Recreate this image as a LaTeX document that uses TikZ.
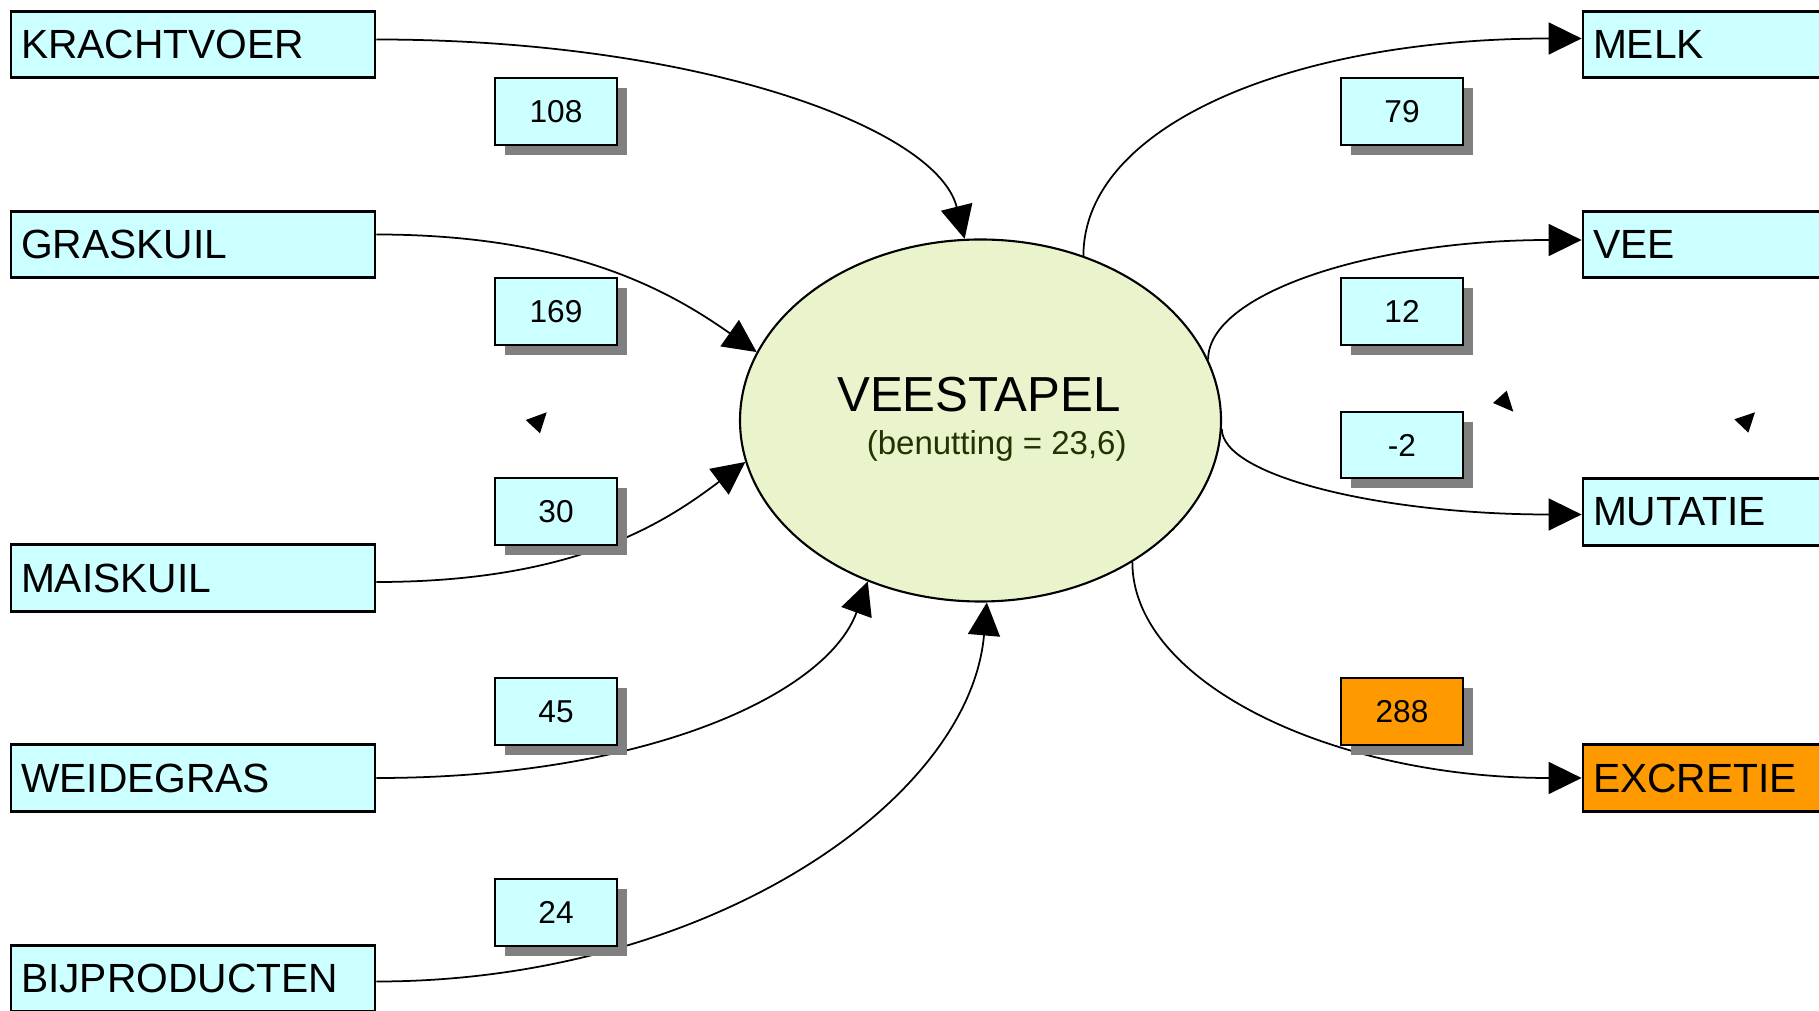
\documentclass[tikz,border=0pt]{standalone}
\usepackage{fontspec}
\setmainfont{Liberation Sans}
\usepackage{xcolor}
\usepackage{tikz}
\usetikzlibrary{arrows.meta,shapes.geometric,shadows}

\definecolor{lichtblauw}{HTML}{CCFFFF}
\definecolor{oranje}{HTML}{FF9900}
\definecolor{lichtgroen}{HTML}{E9F4CC}
\definecolor{donkergroen}{HTML}{223300}
\definecolor{schaduw}{HTML}{808080}

\tikzset{
	post/.style={rectangle, draw=black, line width=0.8pt, fill=lichtblauw, minimum height=0.667cm, text width=3.44cm, inner xsep=0.1cm, inner ysep=0pt, align=left, font=\fontsize{11.6}{13}\selectfont},
	getal/.style={rectangle, draw=black, line width=0.65pt, fill=lichtblauw, minimum width=1.22cm, minimum height=0.667cm, inner sep=0pt, font=\fontsize{9}{11}\selectfont, drop shadow={shadow xshift=0.1cm, shadow yshift=-0.1cm, fill=schaduw, opacity=1}},
	stroom/.style={line width=0.5pt, -{Triangle[length=3.3mm,width=3.2mm]}}
}

\begin{document}
\begin{tikzpicture}
				\useasboundingbox (0,0) rectangle (18.19,-10.11);
				\clip (0,0) rectangle (18.19,-10.11);
				\fill[white] (0,0) rectangle (18.19,-10.11);
				
				\node[post] (krachtvoer) at (1.93,-0.445) {KRACHTVOER};
				\node[post] (graskuil) at (1.93,-2.445) {GRASKUIL};
				\node[post] (maiskuil) at (1.93,-5.78) {MAISKUIL};
				\node[post] (weidegras) at (1.93,-7.78) {WEIDEGRAS};
				\node[post] (bijproducten) at (1.93,-9.785) {BIJPRODUCTEN};
				
				\node[post] (melk) at (17.65,-0.445) {MELK};
				\node[post] (vee) at (17.65,-2.445) {VEE};
				\node[post] (mutatie) at (17.65,-5.12) {MUTATIE};
				\node[post,fill=oranje] (excretie) at (17.65,-7.78) {EXCRETIE};
				
				\node[ellipse,draw=black,line width=0.6pt,fill=lichtgroen,minimum width=4.81cm,minimum height=3.62cm,inner sep=0pt] (veestapel) at (9.805,-4.205) {};
				\node[anchor=base,font=\fontsize{14}{16}\selectfont] (naam) at (9.79,-4.117) {VEESTAPEL};
				\node[anchor=base,font=\fontsize{9.4}{11}\selectfont,text=donkergroen] (benutting) at (9.967,-4.55) {(benutting = 23,6)};
				
				% aanvoer
				\path [stroom]([yshift=0.5mm]krachtvoer.east) edge[out=0,in=104,out distance=3.2cm,in distance=1.15cm] (veestapel.95);
				\path [stroom]([yshift=1mm]graskuil.east) edge[out=0,in=145,out distance=2cm,in distance=1cm] (veestapel.163.5);
				\path [stroom]([yshift=-0.4mm]maiskuil.east) edge[out=0,in=217,out distance=2cm,in distance=1cm] (veestapel.190);
				\path [stroom](weidegras.east) edge[out=0,in=250,out distance=2.7cm,in distance=1.2cm] (veestapel.235);
				\path [stroom]([yshift=-0.3mm]bijproducten.east) edge[out=0,in=265,out distance=3.3cm,in distance=2cm] (veestapel.272);
				
				% afvoer
				\path [stroom](veestapel.58) edge[out=90,in=180,out distance=1.3cm,in distance=2.9cm] ([yshift=0.6mm]melk.west);
				\path [stroom](veestapel.15) edge[out=90,in=180,out distance=0.66cm,in distance=2.1cm] ([yshift=0.45mm]vee.west);
				\path [stroom](veestapel.358) edge[out=-90,in=180,out distance=0.47cm,in distance=2cm] ([yshift=-0.25mm]mutatie.west);
				\path [stroom](veestapel.317) edge[out=-90,in=180,out distance=1.2cm,in distance=2.5cm] (excretie.west);
				
				\node[getal] (krachtvoer-getal) at (5.56,-1.115) {108};
				\node[getal] (graskuil-getal) at (5.56,-3.115) {169};
				\node[getal] (maiskuil-getal) at (5.56,-5.115) {30};
				\node[getal] (weidegras-getal) at (5.56,-7.115) {45};
				\node[getal] (bijproducten-getal) at (5.56,-9.125) {24};
				\node[getal] (melk-getal) at (14.02,-1.115) {79};
				\node[getal] (vee-getal) at (14.02,-3.115) {12};
				\node[getal] (mutatie-getal) at (14.02,-4.45) {-2};
				\node[getal,fill=oranje] (excretie-getal) at (14.02,-7.115) {288};
				
				\fill (5.257,-4.2) -- (5.467,-4.123) -- (5.4,-4.333) -- cycle;
				\fill (14.93,-4.03) -- (15.067,-3.907) -- (15.133,-4.117) -- cycle;
				\fill (17.343,-4.193) -- (17.55,-4.123) -- (17.483,-4.327) -- cycle;
				%		\path [stroom](veestapel) edge[bend left] (mutatie);
			\end{tikzpicture}
\end{document}
